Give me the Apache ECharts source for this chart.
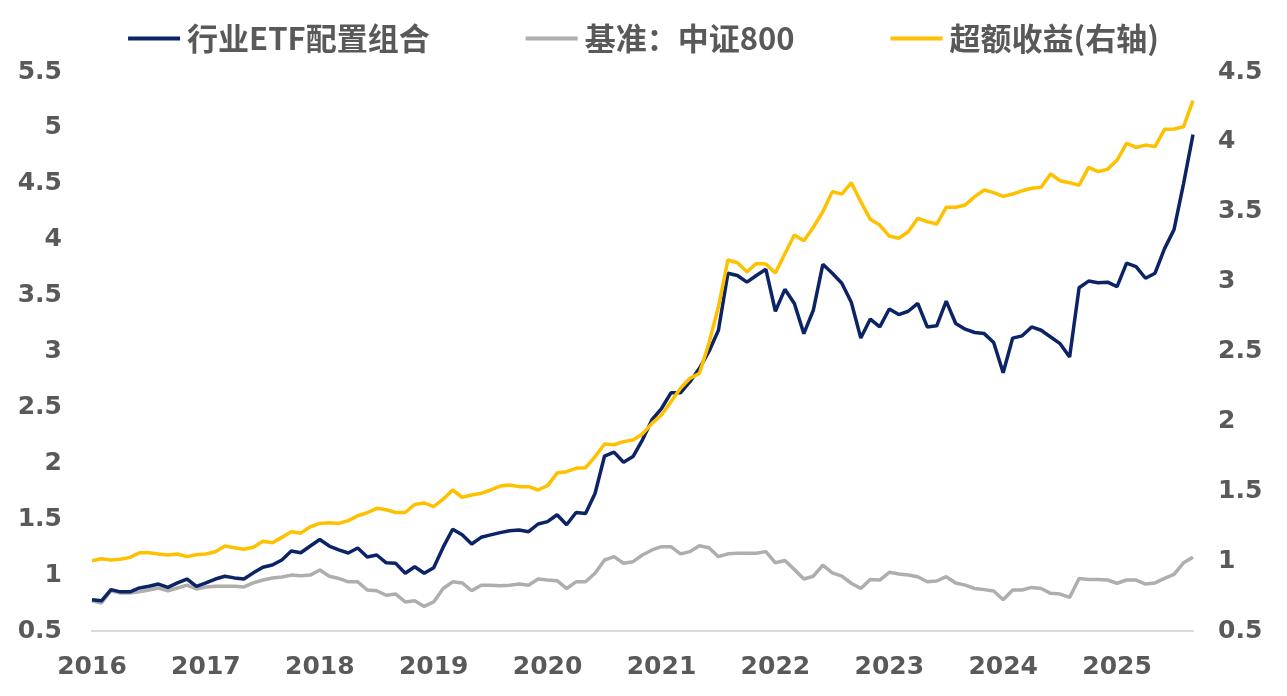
<!DOCTYPE html>
<html>
<head>
<meta charset="utf-8">
<script src="https://cdn.jsdelivr.net/npm/echarts@6/dist/echarts.min.js"></script>
<style>
html,body{margin:0;padding:0;background:#fff;}
#main{width:1287px;height:696px;}
</style>
</head>
<body>
<div id="main"></div>
<script>
// Months 2016-01 .. 2025-09
const months = [];
for (let y = 2016; y <= 2025; y++) {
  for (let m = 1; m <= 12; m++) {
    if (y === 2025 && m > 9) break;
    months.push(y + '-' + (m < 10 ? '0' + m : m));
  }
}

const seriesNames = ['行业ETF配置组合', '基准：中证800', '超额收益(右轴)'];

const portfolio = [
  0.78,0.77,0.87,0.85,0.85,0.885,0.90,0.92,0.89,0.93,0.965,0.90,
  0.93,0.965,0.99,0.975,0.965,1.02,1.07,1.09,1.135,1.215,1.20,1.26,
  1.318,1.26,1.225,1.198,1.242,1.162,1.18,1.11,1.105,1.016,1.075,1.016,
  1.066,1.25,1.41,1.36,1.278,1.338,1.36,1.38,1.397,1.403,1.388,1.457,
  1.478,1.54,1.45,1.56,1.55,1.73,2.065,2.10,2.01,2.06,2.21,2.39,
  2.49,2.63,2.63,2.73,2.85,3.0,3.19,3.70,3.68,3.62,3.68,3.735,
  3.36,3.556,3.43,3.16,3.37,3.78,3.70,3.61,3.44,3.12,3.29,3.22,
  3.38,3.33,3.36,3.43,3.22,3.23,3.45,3.25,3.20,3.17,3.16,3.08,
  2.81,3.12,3.14,3.22,3.19,3.13,3.07,2.95,3.57,3.63,3.615,3.62,
  3.58,3.79,3.76,3.655,3.70,3.92,4.09,4.50,4.94
];

const benchmark = [
  0.77,0.75,0.86,0.84,0.84,0.85,0.867,0.885,0.86,0.885,0.91,0.876,
  0.894,0.90,0.90,0.90,0.894,0.93,0.956,0.974,0.983,1.0,0.995,1.0,
  1.045,0.99,0.97,0.94,0.94,0.867,0.86,0.82,0.83,0.76,0.77,0.72,
  0.76,0.88,0.94,0.93,0.86,0.91,0.91,0.905,0.91,0.92,0.91,0.965,
  0.956,0.95,0.88,0.94,0.94,1.016,1.135,1.165,1.106,1.12,1.18,1.225,
  1.254,1.254,1.19,1.21,1.263,1.245,1.165,1.19,1.195,1.195,1.195,1.21,
  1.11,1.13,1.05,0.965,0.99,1.09,1.02,0.99,0.927,0.88,0.96,0.956,
  1.025,1.01,1.0,0.986,0.94,0.947,0.986,0.93,0.91,0.88,0.87,0.858,
  0.78,0.867,0.867,0.89,0.88,0.837,0.83,0.80,0.97,0.96,0.96,0.956,
  0.927,0.956,0.956,0.92,0.93,0.97,1.007,1.11,1.16
];

const excess = [
  1.003,1.017,1.008,1.013,1.027,1.06,1.06,1.051,1.044,1.051,1.032,1.046,
  1.051,1.067,1.108,1.096,1.085,1.099,1.142,1.132,1.17,1.21,1.20,1.246,
  1.27,1.275,1.27,1.29,1.325,1.346,1.378,1.368,1.348,1.348,1.405,1.416,
  1.39,1.443,1.509,1.457,1.473,1.485,1.509,1.537,1.545,1.533,1.533,1.509,
  1.54,1.63,1.64,1.664,1.669,1.747,1.838,1.833,1.855,1.867,1.91,1.986,
  2.046,2.14,2.237,2.308,2.344,2.559,2.82,3.155,3.135,3.07,3.13,3.126,
  3.062,3.2,3.334,3.293,3.389,3.50,3.644,3.627,3.708,3.572,3.446,3.405,
  3.326,3.31,3.357,3.453,3.429,3.412,3.532,3.532,3.548,3.608,3.656,3.637,
  3.61,3.627,3.65,3.668,3.675,3.77,3.722,3.708,3.69,3.818,3.787,3.804,
  3.87,3.99,3.96,3.977,3.966,4.09,4.092,4.108,4.295
];

const chart = echarts.init(document.getElementById('main'), null, {renderer: 'canvas'});
const labelFont = {
  color: '#595959',
  fontSize: 25,
  fontWeight: 'bold',
  fontFamily: 'DejaVu Sans'
};
chart.setOption({
  animation: false,
  backgroundColor: '#ffffff',
  legend: {
    top: 18,
    left: 'center',
    itemWidth: 52,
    itemHeight: 4,
    itemGap: 96,
    icon: 'rect',
    textStyle: {
      color: '#595959',
      fontSize: 31,
      fontWeight: 'bold',
      fontFamily: 'Noto Sans CJK SC',
      padding: [0, 0, 0, 2]
    },
    data: seriesNames
  },
  grid: {left: 92, right: 94, top: 72, bottom: 65, containLabel: false},
  xAxis: {
    type: 'category',
    data: months,
    boundaryGap: false,
    axisLine: {show: true, lineStyle: {color: '#d9d9d9', width: 2}},
    axisTick: {show: false},
    axisLabel: Object.assign({}, labelFont, {
      margin: 24,
      interval: function (idx) { return idx % 12 === 0; },
      formatter: function (v) { return v.slice(0, 4); }
    }),
    splitLine: {show: false}
  },
  yAxis: [
    {
      type: 'value',
      min: 0.5, max: 5.5, interval: 0.5,
      axisLine: {show: false},
      axisTick: {show: false},
      splitLine: {show: false},
      axisLabel: Object.assign({}, labelFont, {margin: 30})
    },
    {
      type: 'value',
      position: 'right',
      min: 0.5, max: 4.5, interval: 0.5,
      axisLine: {show: false},
      axisTick: {show: false},
      splitLine: {show: false},
      axisLabel: Object.assign({}, labelFont, {margin: 25})
    }
  ],
  series: [
    {
      name: seriesNames[0], type: 'line', yAxisIndex: 0, data: portfolio,
      showSymbol: false, symbol: 'none',
      lineStyle: {color: '#0c2466', width: 3.5},
      itemStyle: {color: '#0c2466'}, z: 3
    },
    {
      name: seriesNames[1], type: 'line', yAxisIndex: 0, data: benchmark,
      showSymbol: false, symbol: 'none',
      lineStyle: {color: '#aeaeae', width: 3.5},
      itemStyle: {color: '#aeaeae'}, z: 2
    },
    {
      name: seriesNames[2], type: 'line', yAxisIndex: 1, data: excess,
      showSymbol: false, symbol: 'none',
      lineStyle: {color: '#ffc000', width: 3.5},
      itemStyle: {color: '#ffc000'}, z: 4
    }
  ]
});
</script>
</body>
</html>
